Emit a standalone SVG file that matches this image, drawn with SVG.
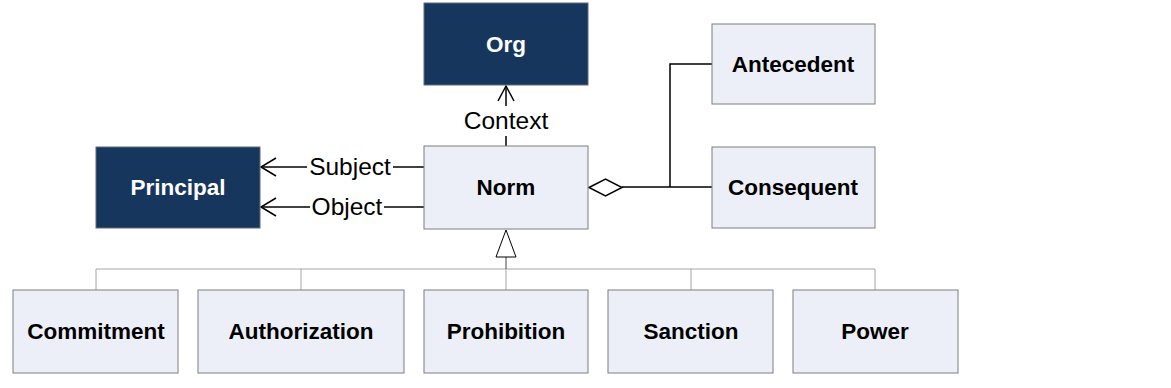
<svg xmlns="http://www.w3.org/2000/svg" width="1171" height="388" viewBox="0 0 1171 388">
<style>
.dark{fill:#17365D;stroke:#5f6b7a;stroke-width:1}
.light{fill:#ECEFF8;stroke:#7F7F7F;stroke-width:1}
.lt{font-family:"Liberation Sans",Arial,sans-serif;font-weight:bold;font-size:22.5px;text-anchor:middle;fill:#000}
.dt{font-family:"Liberation Sans",Arial,sans-serif;font-weight:bold;font-size:22.5px;text-anchor:middle;fill:#fff}
.lbl{font-family:"Liberation Sans",Arial,sans-serif;font-size:24.5px;text-anchor:middle;fill:#000}
.ln{stroke:#000;stroke-width:1.5;fill:none}
.gl{stroke:#A6A6A6;stroke-width:1;fill:none}
</style>
<rect width="1171" height="388" fill="#fff"/>
<g id="connectors">
<polyline class="gl" points="96,290 96,269 875,269 875,290"/>
<line class="gl" x1="301" y1="269" x2="301" y2="290"/>
<line class="gl" x1="506" y1="269" x2="506" y2="290"/>
<line class="gl" x1="691" y1="269" x2="691" y2="290"/>
<line stroke="#444" stroke-width="1" x1="506" y1="257" x2="506" y2="269"/>
<polygon points="506,230 496,257 516,257" fill="#fff" stroke="#000" stroke-width="1"/>
<line class="ln" x1="506" y1="146" x2="506" y2="136"/>
<line class="ln" x1="506" y1="106" x2="506" y2="86"/>
<polyline class="ln" points="498,101 506,86 514,101"/>
<text class="lbl" x="506" y="129">Context</text>
<line class="ln" x1="424" y1="167" x2="393" y2="167"/>
<line class="ln" x1="307" y1="167" x2="261" y2="167"/>
<polyline class="ln" points="276,158 261,167 276,176"/>
<text class="lbl" x="350" y="175">Subject</text>
<line class="ln" x1="424" y1="207" x2="384" y2="207"/>
<line class="ln" x1="310" y1="207" x2="261" y2="207"/>
<polyline class="ln" points="276,198 261,207 276,216"/>
<text class="lbl" x="347" y="215">Object</text>
<polygon points="589,187.5 605.5,179 622,187.5 605.5,196" fill="#fff" stroke="#000" stroke-width="1.5"/>
<line class="ln" x1="622" y1="187" x2="713" y2="187"/>
<polyline class="ln" points="670,187 670,64 713,64"/>
</g>
<g id="org"><rect class="dark" x="424" y="3" width="164" height="82"/><text class="dt" x="506" y="52">Org</text></g>
<g id="principal"><rect class="dark" x="96" y="147" width="164" height="81"/><text class="dt" x="178" y="195">Principal</text></g>
<g id="norm"><rect class="light" x="424" y="146" width="164" height="83"/><text class="lt" x="506" y="195">Norm</text></g>
<g id="antecedent"><rect class="light" x="712" y="24" width="163" height="80"/><text class="lt" x="793" y="72">Antecedent</text></g>
<g id="consequent"><rect class="light" x="712" y="147" width="163" height="81"/><text class="lt" x="793" y="195">Consequent</text></g>
<g id="commitment"><rect class="light" x="13" y="290" width="165" height="83"/><text class="lt" x="96" y="339">Commitment</text></g>
<g id="authorization"><rect class="light" x="198" y="290" width="206" height="83"/><text class="lt" x="301" y="339">Authorization</text></g>
<g id="prohibition"><rect class="light" x="424" y="290" width="164" height="83"/><text class="lt" x="506" y="339">Prohibition</text></g>
<g id="sanction"><rect class="light" x="608" y="290" width="165" height="83"/><text class="lt" x="691" y="339">Sanction</text></g>
<g id="power"><rect class="light" x="793" y="290" width="165" height="83"/><text class="lt" x="875" y="339">Power</text></g>
</svg>
